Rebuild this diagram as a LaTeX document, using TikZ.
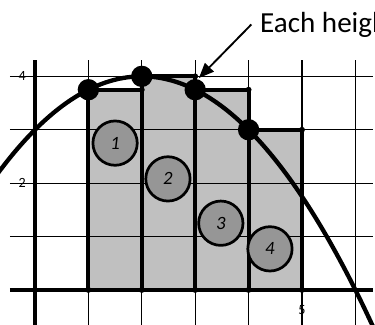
\documentclass[tikz,border=0pt]{standalone}
\usepackage{fontspec}
\setmainfont{Carlito}
\usetikzlibrary{arrows.meta}
\definecolor{rectgray}{RGB}{192,192,192}
\definecolor{circgray}{RGB}{150,150,150}
\begin{document}
\begin{tikzpicture}[x=1cm,y=1cm,
  gridline/.style={line width=0.7pt},
  axisline/.style={line width=2.4pt},
  rectline/.style={line width=2.1pt},
  curveline/.style={line width=2.3pt},
  bigdot/.style={circle,fill=black,inner sep=0pt,minimum size=0.4cm},
  smalldot/.style={circle,fill=black,inner sep=0pt,minimum size=0.11cm},
  numcirc/.style={circle,draw=black,line width=1.45pt,fill=circgray,inner sep=0pt,minimum size=0.83cm,font=\fontsize{10}{11}\selectfont\itshape},
  ticklabel/.style={inner sep=0pt,font=\fontsize{7.5}{8}\selectfont}
]
\useasboundingbox (-0.655,-0.64) rectangle (6.367,5.43);
\begin{scope}
\clip (-0.655,-0.64) rectangle (6.367,5.43);
% shaded rectangles
\fill[rectgray] (1,0) rectangle (2,3.75);
\fill[rectgray] (2,0) rectangle (3,4);
\fill[rectgray] (3,0) rectangle (4,3.75);
\fill[rectgray] (4,0) rectangle (5,3);
% grid
\foreach \x in {1,...,6} \draw[gridline] (\x,-0.7) -- (\x,4.31);
\foreach \y in {1,...,4} \draw[gridline] (-0.47,\y) -- (6.33,\y);
% axes
\draw[axisline] (-0.47,0) -- (6.33,0);
\draw[axisline] (0,-0.7) -- (0,4.31);
% rectangle edges
\draw[rectline] (1,0) -- (1,3.75) -- (2,3.75);
\draw[rectline] (2,0) -- (2,4) -- (3,4);
\draw[rectline] (3,0) -- (3,4);
\draw[rectline] (3,3.75) -- (4,3.75);
\draw[rectline] (4,0) -- (4,3.75);
\draw[rectline] (4,3) -- (5,3) -- (5,0);
% curve
\draw[curveline] plot[domain=-0.7:6.5,samples=90,smooth] (\x,{4-(\x-2)*(\x-2)/4});
% dots
\node[bigdot] (p1) at (1,3.75) {};
\node[bigdot] (p2) at (2,4) {};
\node[bigdot] (p3) at (3,3.75) {};
\node[bigdot] (p4) at (4,3) {};
\node[smalldot] (q1) at (2,3.75) {};
\node[smalldot] (q2) at (3,4) {};
\node[smalldot] (q3) at (4,3.75) {};
\node[smalldot] (q4) at (5,3) {};
\foreach \x in {0,...,5} \node[smalldot] (a\x) at (\x,0) {};
% numbered circles
\node[numcirc] (c1) at (1.50,2.75) {\raisebox{-3pt}{1}};
\node[numcirc] (c2) at (2.49,2.08) {\raisebox{-3pt}{2}};
\node[numcirc] (c3) at (3.48,1.25) {\raisebox{-3pt}{3}};
\node[numcirc] (c4) at (4.40,0.77) {\raisebox{-3pt}{4}};
% tick labels
\node[ticklabel] (t4) at (-0.24,4) {4};
\node[ticklabel] (t2) at (-0.24,2) {2};
\node[ticklabel] (t5) at (5,-0.37) {5};
% annotation
\node[anchor=base west,inner sep=0pt,font=\fontsize{15.5}{17}\selectfont] (lbl) at (4.21,4.83) {Each heigh};
\coordinate (tip) at (3.07,3.97);
\draw[line width=1pt,-{Triangle[length=8pt,width=6.5pt]}] ([xshift=-4.5pt]lbl.west) -- (tip);
\end{scope}
\end{tikzpicture}
\end{document}
